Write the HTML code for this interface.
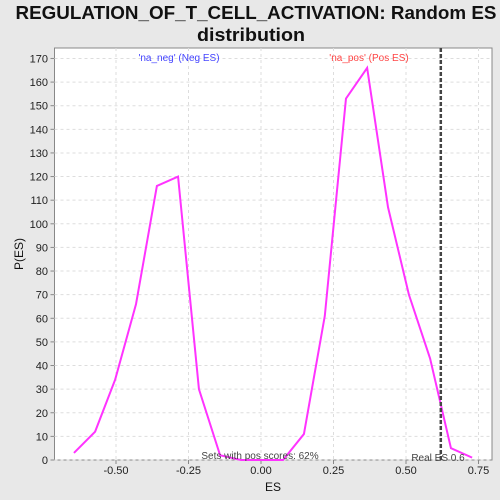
<!DOCTYPE html>
<html><head><meta charset="utf-8"><style>
body{margin:0;background:#e8e8e8;font-family:"Liberation Sans",sans-serif;}
svg{display:block}
</style></head><body>
<svg width="500" height="500">
<rect x="0" y="0" width="500" height="500" fill="#e8e8e8"/>
<text x="256" y="19" text-anchor="middle" font-size="18" font-weight="bold" fill="#111" textLength="481" lengthAdjust="spacingAndGlyphs">REGULATION_OF_T_CELL_ACTIVATION: Random ES</text>
<text x="251" y="41" text-anchor="middle" font-size="18" font-weight="bold" fill="#111" textLength="108" lengthAdjust="spacingAndGlyphs">distribution</text>
<rect x="54.5" y="48" width="437.5" height="412" fill="#fff" stroke="#888"/>
<g id="grid"></g><g id="axes"></g>
<text x="179" y="61" text-anchor="middle" font-size="10" fill="#4444ff">'na_neg' (Neg ES)</text>
<text x="369" y="61" text-anchor="middle" font-size="10" fill="#ff4444">'na_pos' (Pos ES)</text>
<polyline id="line" fill="none" stroke="#ff33ff" stroke-width="2"/>
<line id="real" y1="48" y2="460" stroke="#444" stroke-width="2.5" stroke-dasharray="4,2"/>
<text x="260" y="459" text-anchor="middle" font-size="10" fill="#444">Sets with pos scores: 62%</text>
<text x="438" y="461" text-anchor="middle" font-size="10" fill="#444">Real ES 0.6</text>
<text x="273" y="491" text-anchor="middle" font-size="12" fill="#111">ES</text>
<text x="23" y="254" text-anchor="middle" font-size="12" fill="#111" transform="rotate(-90 23 254)">P(ES)</text>
</svg>
<script>
const esValues=[-0.645,-0.572,-0.503,-0.431,-0.359,-0.286,-0.214,-0.141,-0.069,0.003,0.076,0.148,0.22,0.293,0.366,0.438,0.51,0.583,0.655,0.728];
const density=[3,12,34,66,116,120,30,2,0,0,0,11,61,153,166,107,70,43,5,1];
const xTicks=[-0.5,-0.25,0,0.25,0.5,0.75];
const xTickLabels=["-0.50","-0.25","0.00","0.25","0.50","0.75"];
const yTicks=[0,10,20,30,40,50,60,70,80,90,100,110,120,130,140,150,160,170];
const realES=0.62;
const X=v=>261+v*290, Y=v=>460-v*2.362;
const ns="http://www.w3.org/2000/svg";
const g=document.getElementById('grid'),a=document.getElementById('axes');
function mk(p,t,at){const e=document.createElementNS(ns,t);for(const k in at)e.setAttribute(k,at[k]);p.appendChild(e);return e;}
xTicks.forEach((v,i)=>{
 const l=mk(g,'line',{x1:X(v),x2:X(v),y1:48,y2:460,stroke:'#ddd','stroke-dasharray':'3,3'});
 
 
 const t=mk(a,'line',{x1:X(v),x2:X(v),y1:460,y2:464,stroke:'#888'});
 
 
 const tx=mk(a,'text',{x:X(v),y:474,'text-anchor':'middle','font-size':'11',fill:'#222'});
 tx.textContent=xTickLabels[i];
 
 
});
yTicks.forEach(v=>{
 const l=mk(g,'line',{x1:54.5,x2:492,y1:Y(v),y2:Y(v),stroke:'#ddd','stroke-dasharray':'3,3'});
 
 
 const t=mk(a,'line',{x1:50.5,x2:54.5,y1:Y(v),y2:Y(v),stroke:'#888'});
 
 
 const tx=mk(a,'text',{x:48,y:Y(v)+4,'text-anchor':'end','font-size':'11',fill:'#222'});
 tx.textContent=v;
 
 
});
document.getElementById('line').setAttribute('points',esValues.map((v,i)=>X(v)+','+Y(density[i])).join(' '));
const r=document.getElementById('real');r.setAttribute('x1',X(realES));r.setAttribute('x2',X(realES));
</script>
</body></html>
